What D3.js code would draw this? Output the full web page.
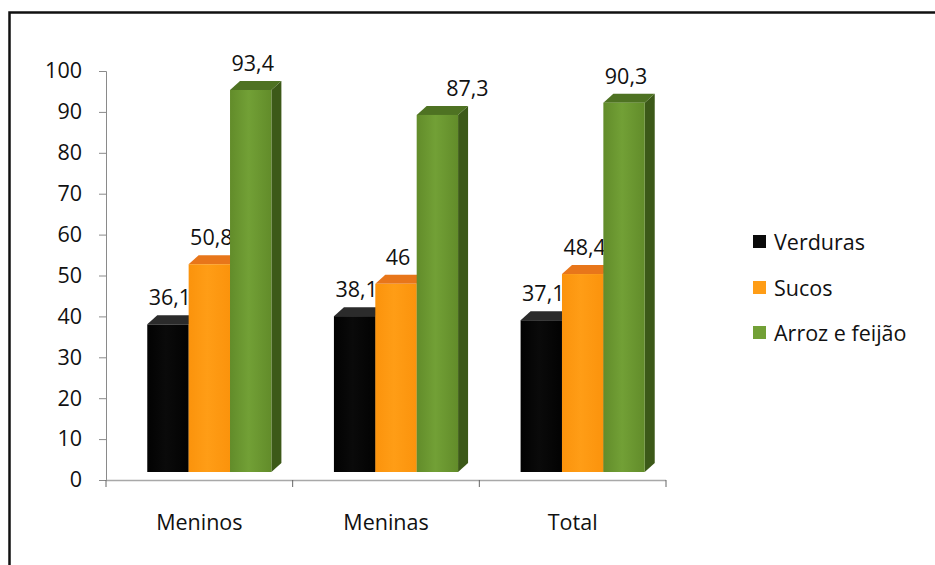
<!DOCTYPE html>
<html>
<head>
<meta charset="utf-8">
<script src="https://cdn.jsdelivr.net/npm/d3@7"></script>
<style>
  html, body { margin: 0; padding: 0; background: #fff; }
  svg { display: block; }
  text { font-family: "Open Sans", Lato, sans-serif; fill: #111; }
</style>
</head>
<body>
<svg id="chart" width="935" height="565"></svg>
<script>
// Consumption frequency (%) by group
const categories = ["Meninos", "Meninas", "Total"];
const seriesNames = ["Verduras", "Sucos", "Arroz e feijão"];
const verduras = [36.1, 38.1, 37.1];
const sucos = [50.8, 46, 48.4];
const arrozFeijao = [93.4, 87.3, 90.3];
const valueLabels = [["36,1", "38,1", "37,1"], ["50,8", "46", "48,4"], ["93,4", "87,3", "90,3"]];
const yTicks = [0, 10, 20, 30, 40, 50, 60, 70, 80, 90, 100];

const seriesValues = [verduras, sucos, arrozFeijao];
const fontSize = "21.5px";

// face colours for each series: front (edge/middle), top, side
const palette = [
  { edge: "#020202", mid: "#0a0a0a", top: "#2b2b2b", side: "#151515" },
  { edge: "#FB930C", mid: "#FF9D16", top: "#E8761A", side: "#D0680E" },
  { edge: "#628C2A", mid: "#72A036", top: "#4E7222", side: "#3C5918" }
];

const svg = d3.select("#chart");
const defs = svg.append("defs");
palette.forEach((c, i) => {
  const grad = defs.append("linearGradient").attr("id", "front" + i)
    .attr("x1", "0").attr("x2", "1").attr("y1", "0").attr("y2", "0");
  grad.append("stop").attr("offset", "0").attr("stop-color", c.edge);
  grad.append("stop").attr("offset", "0.45").attr("stop-color", c.mid);
  grad.append("stop").attr("offset", "1").attr("stop-color", c.edge);
});

// outer frame (top and left edges visible)
svg.append("path")
  .attr("d", "M9.5,565 V12.5 H935")
  .attr("fill", "none")
  .attr("stroke", "#111")
  .attr("stroke-width", 2.5);

const x = d3.scaleBand().domain(categories).range([106, 666]);
const y = d3.scaleLinear().domain([0, 100]).range([480, 71]);

// 3D extrusion
const depthX = 10, depthY = -9, lift = 8;
const groupW = x.bandwidth() * 0.665;
const inner = d3.scaleBand().domain(seriesNames).range([0, groupW]);
const groupOffset = (x.bandwidth() - groupW) / 2 + 10;

// y axis
const yAxis = svg.append("g").attr("transform", "translate(106,0)")
  .call(d3.axisLeft(y).tickValues(yTicks).tickSize(7).tickPadding(17).tickFormat(d3.format("d")));
yAxis.select(".domain").attr("stroke", "#8a8a8a").attr("d", "M-7,71.5 H0.5 V480");
yAxis.selectAll(".tick line").attr("stroke", "#8a8a8a");
yAxis.selectAll(".tick text").style("font-size", fontSize).attr("fill", "#111");

// x axis
const xAxis = svg.append("g").attr("transform", "translate(0,480)");
xAxis.append("line").attr("x1", 106).attr("x2", 666).attr("y1", 0.5).attr("y2", 0.5)
  .attr("stroke", "#a8a8a8").attr("stroke-width", 1.5);
xAxis.selectAll("line.tk").data(categories.concat(["end"])).join("line")
  .attr("class", "tk")
  .attr("x1", (d, i) => i < categories.length ? x(d) : x.range()[1])
  .attr("x2", (d, i) => i < categories.length ? x(d) : x.range()[1])
  .attr("y1", 0).attr("y2", 7)
  .attr("stroke", "#666");
xAxis.selectAll("text.cat").data(categories).join("text")
  .attr("class", "cat")
  .attr("x", d => x(d) + x.bandwidth() / 2)
  .attr("y", 50)
  .attr("text-anchor", "middle")
  .style("font-size", fontSize)
  .text(d => d);

// bars, drawn series by series within each group
const labelNudge = { "Meninas|Arroz e feijão": 28 };
const bars = svg.append("g");
categories.forEach((cat, ci) => {
  seriesNames.forEach((s, si) => {
    const v = seriesValues[si][ci];
    const x0 = x(cat) + groupOffset + inner(s);
    const w = inner.bandwidth();
    const top = y(v) - lift;
    const bottom = y(0) - lift;
    const c = palette[si];
    const g = bars.append("g");
    g.append("polygon")
      .attr("points", [[x0 + w, top], [x0 + w + depthX, top + depthY], [x0 + w + depthX, bottom + depthY], [x0 + w, bottom]].join(" "))
      .attr("fill", c.side);
    g.append("polygon")
      .attr("points", [[x0, top], [x0 + depthX, top + depthY], [x0 + w + depthX, top + depthY], [x0 + w, top]].join(" "))
      .attr("fill", c.top);
    g.append("rect")
      .attr("x", x0).attr("y", top)
      .attr("width", w).attr("height", bottom - top)
      .attr("fill", `url(#front${si})`);
    g.append("text")
      .attr("x", x0 + w / 2 + 2 + (labelNudge[cat + "|" + s] || 0))
      .attr("y", top - 19)
      .attr("text-anchor", "middle")
      .style("font-size", fontSize)
      .text(valueLabels[si][ci]);
  });
});

// legend
const legend = svg.append("g");
const legendY = [242, 288, 333];
seriesNames.forEach((s, i) => {
  legend.append("rect")
    .attr("x", 753).attr("y", legendY[i] - 7)
    .attr("width", 13).attr("height", 13)
    .attr("fill", palette[i].mid);
  legend.append("text")
    .attr("x", 774).attr("y", legendY[i])
    .attr("dy", "0.35em")
    .style("font-size", fontSize)
    .text(s);
});
</script>
</body>
</html>
